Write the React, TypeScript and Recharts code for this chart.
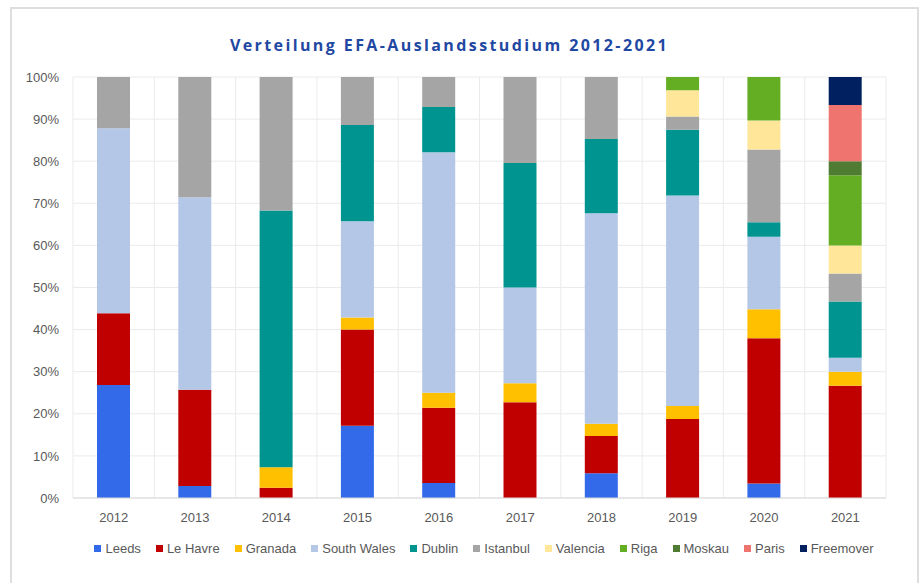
import { BarChart, Bar, XAxis, YAxis, CartesianGrid } from 'recharts';

// Anzahl Studierende je Jahr und Partnerort (Anteile werden per "expand" gebildet)
const years = ['2012', '2013', '2014', '2015', '2016', '2017', '2018', '2019', '2020', '2021'];

const leeds = [11, 1, 0, 6, 1, 0, 2, 0, 1, 0];
const leHavre = [7, 8, 1, 8, 5, 10, 3, 6, 10, 8];
const granada = [0, 0, 2, 1, 1, 2, 1, 1, 2, 1];
const southWales = [18, 16, 0, 8, 16, 10, 17, 16, 5, 1];
const dublin = [0, 0, 25, 8, 3, 13, 6, 5, 1, 4];
const istanbul = [5, 10, 13, 4, 2, 9, 5, 1, 5, 2];
const valencia = [0, 0, 0, 0, 0, 0, 0, 2, 2, 2];
const riga = [0, 0, 0, 0, 0, 0, 0, 1, 3, 5];
const moskau = [0, 0, 0, 0, 0, 0, 0, 0, 0, 1];
const paris = [0, 0, 0, 0, 0, 0, 0, 0, 0, 4];
const freemover = [0, 0, 0, 0, 0, 0, 0, 0, 0, 2];

const yTicks = [0, 0.1, 0.2, 0.3, 0.4, 0.5, 0.6, 0.7, 0.8, 0.9, 1];

const series = [
  { key: 'Leeds', values: leeds, color: '#336aea' },
  { key: 'Le Havre', values: leHavre, color: '#c00000' },
  { key: 'Granada', values: granada, color: '#ffc000' },
  { key: 'South Wales', values: southWales, color: '#b4c7e7' },
  { key: 'Dublin', values: dublin, color: '#009490' },
  { key: 'Istanbul', values: istanbul, color: '#a5a5a5' },
  { key: 'Valencia', values: valencia, color: '#ffe699' },
  { key: 'Riga', values: riga, color: '#64ae24' },
  { key: 'Moskau', values: moskau, color: '#507b32' },
  { key: 'Paris', values: paris, color: '#ef746f' },
  { key: 'Freemover', values: freemover, color: '#002060' },
];

const data = years.map((year, i) => {
  const row: any = { year };
  series.forEach((s) => {
    row[s.key] = s.values[i];
  });
  return row;
});

const FONT = '"Liberation Sans", Arial, sans-serif';

export default function App() {
  return (
    <div style={{ position: 'absolute', left: 0, top: 0, width: 919, height: 583, background: '#fff', overflow: 'hidden' }}>
      {/* Rahmen */}
      <div
        style={{
          position: 'absolute',
          left: 10,
          top: 7,
          width: 905,
          height: 600,
          border: '2px solid #dedede',
        }}
      />
      <div
        style={{
          position: 'absolute',
          left: 0,
          width: 899,
          top: 34,
          textAlign: 'center',
          fontFamily: '"Open Sans", sans-serif',
          fontWeight: 700,
          fontSize: 16,
          letterSpacing: 2.4,
          color: '#1f48a3',
        }}
      >
        Verteilung EFA-Auslandsstudium 2012-2021
      </div>
      <div style={{ position: 'absolute', left: 0, top: 0 }}>
        <BarChart
          width={919}
          height={583}
          data={data}
          stackOffset="expand"
          barSize={33}
          margin={{ top: 77, right: 33, bottom: 55, left: 0 }}
        >
          <CartesianGrid
            stroke="#ebebeb"
            verticalCoordinatesGenerator={({ offset }: any) =>
              years.map((_, i) => offset.left + (i * offset.width) / years.length).concat(offset.left + offset.width)
            }
          />
          <XAxis
            dataKey="year"
            tickLine={false}
            axisLine={{ stroke: '#d9d9d9' }}
            tickMargin={9}
            height={30}
            tick={{ fill: '#595959', fontSize: 13, fontFamily: FONT }}
          />
          <YAxis
            width={73}
            domain={[0, 1]}
            ticks={yTicks}
            tickFormatter={(v: number) => `${Math.round(v * 100)}%`}
            axisLine={false}
            tickLine={false}
            tickMargin={8}
            tick={{ fill: '#595959', fontSize: 13, fontFamily: FONT }}
          />
          {series.map((s) => (
            <Bar key={s.key} dataKey={s.key} stackId="a" fill={s.color} isAnimationActive={false} />
          ))}
        </BarChart>
      </div>
      <div
        style={{
          position: 'absolute',
          left: 0,
          width: 968,
          top: 541,
          display: 'flex',
          justifyContent: 'center',
          gap: 15,
          fontFamily: FONT,
          fontSize: 13,
          color: '#595959',
        }}
      >
        {series.map((s) => (
          <div key={s.key} style={{ display: 'flex', alignItems: 'center', gap: 4 }}>
            <span style={{ width: 7, height: 7, background: s.color, display: 'inline-block' }} />
            <span>{s.key}</span>
          </div>
        ))}
      </div>
    </div>
  );
}
